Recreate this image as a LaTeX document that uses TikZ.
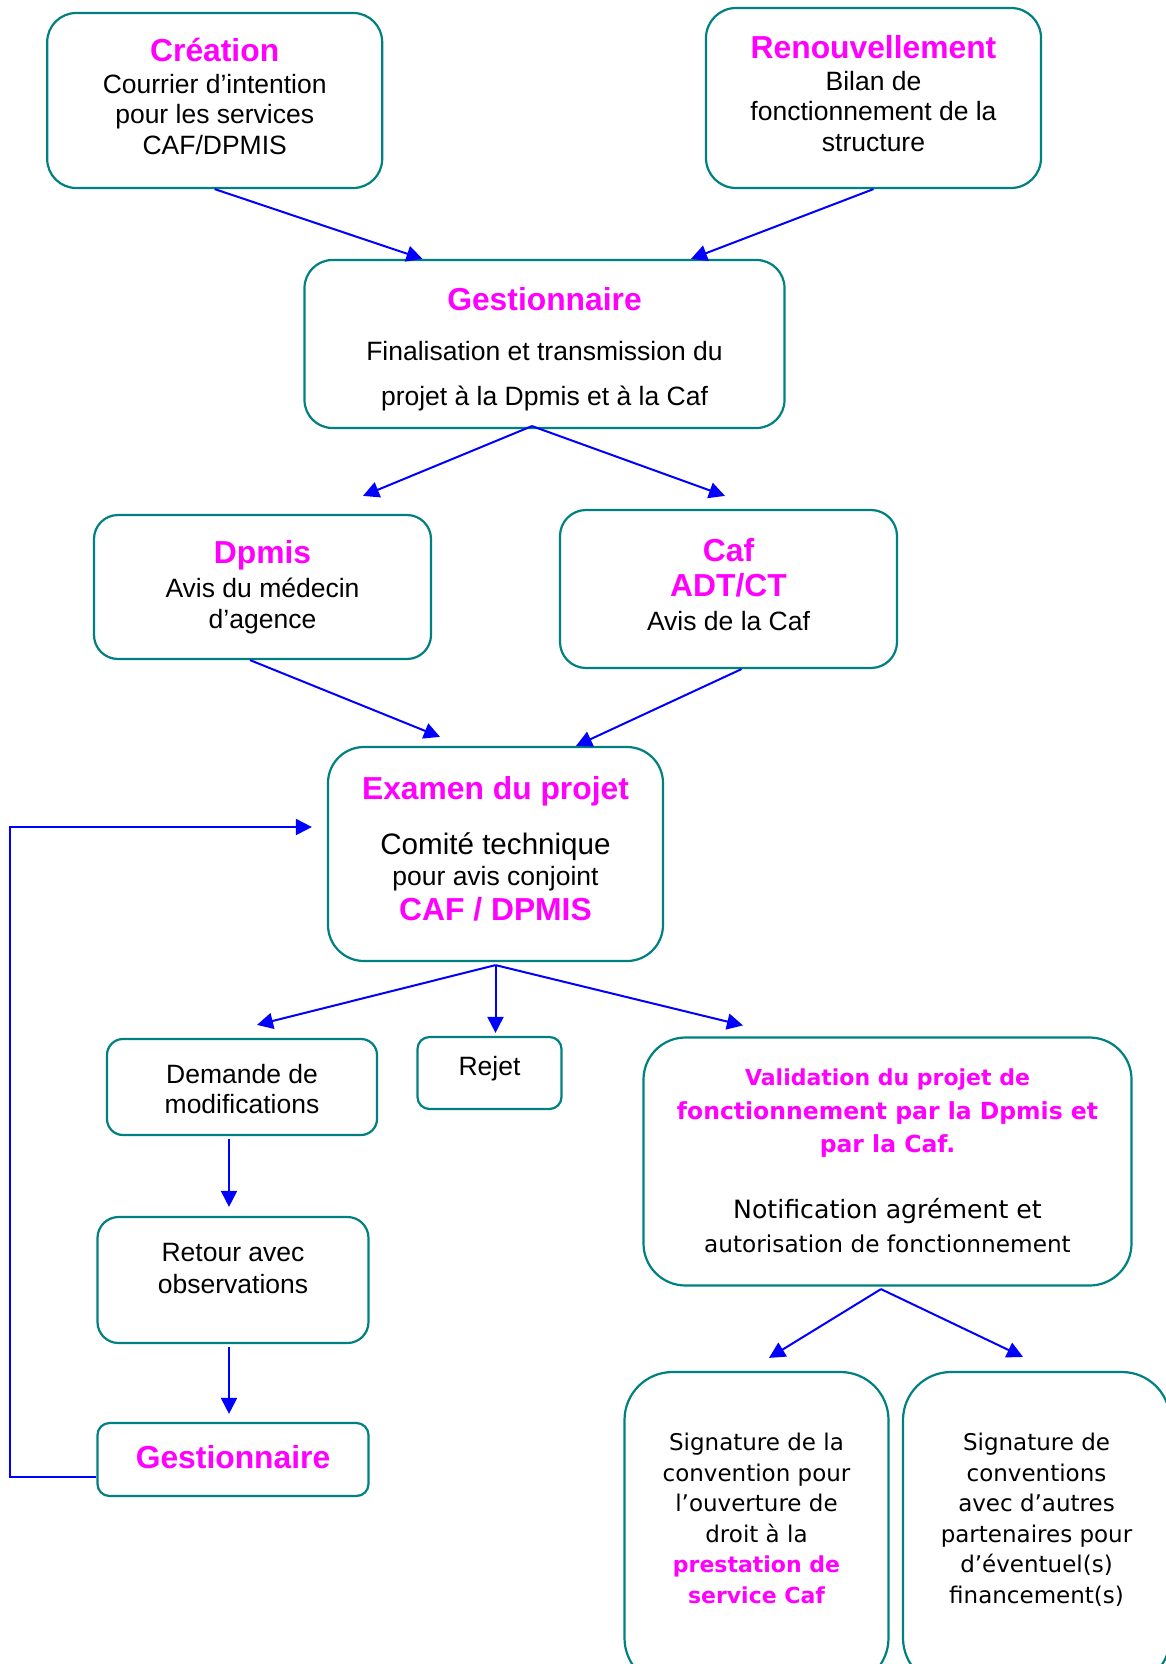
\documentclass[tikz,border=0pt]{standalone}
\usepackage{fontspec}
\setmainfont{Liberation Sans}
\newfontfamily\verdana{DejaVu Sans}
\usetikzlibrary{arrows.meta}
\definecolor{bordure}{RGB}{0,128,128}
\definecolor{rose}{RGB}{255,0,255}
\definecolor{bleu}{RGB}{0,0,255}
\newcommand{\titre}[1]{{\fontsize{15.9}{15.25}\selectfont\bfseries\color{rose}#1}}
\newcommand{\vtitre}[1]{{\fontsize{11.75}{15.25}\selectfont\bfseries\color{rose}#1}}
\tikzstyle{etape} = [rectangle, rounded corners=14pt, draw=bordure, line width=1.1pt, inner sep=0pt, text centered]
\tikzstyle{fleche} = [draw=bleu, line width=1pt, -{Triangle[length=8pt,width=8pt]}]

\begin{document}
\begin{tikzpicture}[x=0.5pt, y=-0.5pt, font=\fontsize{13.25}{15.25}\selectfont]
 \useasboundingbox (0,0) rectangle (1166,1664);
 \clip (0,0) rectangle (1166,1664);

 \node (crea) [etape, rounded corners=14.5pt, minimum width=167.5pt, minimum height=87.5pt] at (214.7,100.5) {%
 \begin{tabular}{c}
  \titre{Création}\\[0.75pt]
  Courrier d’intention\\
  pour les services\\
  CAF/DPMIS
 \end{tabular}};

 \node (renou) [etape, rounded corners=15pt, minimum width=167.5pt, minimum height=90pt] at (873.5,98) {%
 \raisebox{0.2pt}[\height][\depth]{\begin{tabular}{c}
  \titre{Renouvellement}\\[0.75pt]
  Bilan de\\
  fonctionnement de la\\
  structure
 \end{tabular}}};

 \node (gest1) [etape, minimum width=240pt, minimum height=84pt] at (544.5,344) {%
 \raisebox{-3.45pt}[\height][\depth]{\begin{tabular}{c}
  \titre{Gestionnaire}\\[9.7pt]
  Finalisation et transmission du\\[7.25pt]
  projet à la Dpmis et à la Caf
 \end{tabular}}};

 \node (dpmis) [etape, rounded corners=12pt, minimum width=168.5pt, minimum height=72pt] at (262.5,587) {%
 \raisebox{-1pt}[\height][\depth]{\begin{tabular}{c}
  \titre{Dpmis}\\[1.7pt]
  Avis du médecin\\
  d’agence
 \end{tabular}}};

 \node (caf) [etape, rounded corners=13pt, minimum width=168.5pt, minimum height=79pt] at (728.5,589) {%
 \begin{tabular}{c}
  \titre{Caf}\\[1.7pt]
  \titre{ADT/CT}\\[1.7pt]
  Avis de la Caf
 \end{tabular}};

 \node (exam) [etape, rounded corners=18pt, minimum width=167.5pt, minimum height=107pt] at (495.5,854) {%
 \raisebox{0.5pt}[\height][\depth]{\begin{tabular}{c}
  \titre{Examen du projet}\\[12.35pt]
  {\fontsize{14.8}{15.25}\selectfont Comité technique}\\[0.25pt]
  pour avis conjoint\\[1.25pt]
  \titre{CAF / DPMIS}
 \end{tabular}}};

 \node (dem) [etape, rounded corners=8pt, minimum width=135pt, minimum height=48pt] at (242,1087) {%
 \raisebox{-2.65pt}[\height][\depth]{\begin{tabular}{c}
  Demande de\\
  modifications
 \end{tabular}}};

 \node (rejet) [etape, rounded corners=6pt, minimum width=72pt, minimum height=36pt] at (489.5,1073) {%
 \raisebox{1.9pt}[\height][\depth]{\begin{tabular}{c}
  Rejet
 \end{tabular}}};

 \node (valid) [etape, rounded corners=21pt, minimum width=244pt, minimum height=124pt, font=\verdana\fontsize{13.25}{15.25}\selectfont] at (887.5,1161.5) {%
 \raisebox{-0.5pt}[\height][\depth]{\begin{tabular}{c}
  {\fontsize{11}{15.25}\selectfont\bfseries\color{rose}Validation du projet de}\\[1.75pt]
  \vtitre{fonctionnement par la Dpmis et}\\[1.25pt]
  \vtitre{par la Caf.}\\[17.75pt]
  {\fontsize{12.6}{15.25}\selectfont Notification agrément et}\\[1.75pt]
  {\fontsize{11.6}{15.25}\selectfont autorisation de fonctionnement}
 \end{tabular}}};

 \node (retour) [etape, rounded corners=10.5pt, minimum width=135.5pt, minimum height=63pt] at (233,1280) {%
 \raisebox{4.4pt}[\height][\depth]{\begin{tabular}{c}
  Retour avec\\[0.65pt]
  observations
 \end{tabular}}};

 \node (gest2) [etape, rounded corners=6pt, minimum width=135.5pt, minimum height=36.5pt] at (233,1459.5) {%
 \raisebox{-1pt}[\height][\depth]{\begin{tabular}{c}
  \titre{Gestionnaire}
 \end{tabular}}};

 \node (sig1) [etape, rounded corners=24pt, minimum width=132pt, minimum height=157pt, font=\verdana\fontsize{11.5}{15.25}\selectfont] at (756.5,1529) {%
 \raisebox{4pt}[\height][\depth]{\begin{tabular}{c}
  Signature de la\\
  convention pour\\
  l’ouverture de\\
  droit à la\\
  {\fontsize{11}{15.25}\selectfont\bfseries\color{rose}prestation de}\\
  {\fontsize{11}{15.25}\selectfont\bfseries\color{rose}service Caf}
 \end{tabular}}};

 \node (sig2) [etape, rounded corners=24pt, minimum width=133.5pt, minimum height=157pt, font=\verdana\fontsize{11.5}{15.25}\selectfont] at (1036.5,1529) {%
 \raisebox{4pt}[\height][\depth]{\begin{tabular}{c}
  Signature de\\
  conventions\\
  avec d’autres\\
  partenaires pour\\
  d’éventuel(s)\\
  financement(s)
 \end{tabular}}};

 \draw[fleche] (crea.south) -- ([xshift=-61pt]gest1.north);
 \draw[fleche] (renou.south) -- ([xshift=73.25pt]gest1.north);
 \draw[fleche] ([xshift=-6.25pt,yshift=1.5pt]gest1.south) -- ([xshift=50.25pt,yshift=9pt]dpmis.north);
 \draw[fleche] ([xshift=-6.25pt,yshift=1.5pt]gest1.south) -- ([xshift=-1.75pt,yshift=6.5pt]caf.north);
 \draw[fleche] ([xshift=-6.25pt]dpmis.south) -- ([xshift=-27.75pt,yshift=4.5pt]exam.north);
 \draw[fleche] ([xshift=6.5pt]caf.south) -- ([xshift=40.25pt]exam.north);
 \draw[fleche] ([yshift=-1.5pt]exam.south) -- ([xshift=7.5pt,yshift=6.5pt]dem.north);
 \draw[fleche] ([yshift=-1.5pt]exam.south) -- ([xshift=3pt,yshift=1.5pt]rejet.north);
 \draw[fleche] ([yshift=-1.5pt]exam.south) -- ([xshift=-72.25pt,yshift=5.5pt]valid.north);
 \draw[fleche] ([xshift=-6.5pt,yshift=-1.5pt]dem.south) -- ([xshift=-2pt,yshift=4.5pt]retour.north);
 \draw[fleche] ([xshift=-2pt,yshift=-1.65pt]retour.south) -- ([xshift=-2pt,yshift=4pt]gest2.north);
 \draw[fleche] ([yshift=-8.6pt]gest2.west) -- ++(-86,0) |- ([xshift=-7.5pt,yshift=13.5pt]exam.west);
 \draw[fleche] ([xshift=-3.25pt,yshift=-1.25pt]valid.south) -- ([xshift=6.25pt,yshift=6.5pt]sig1.north);
 \draw[fleche] ([xshift=-3.25pt,yshift=-1.25pt]valid.south) -- ([xshift=-6.75pt,yshift=7pt]sig2.north);
\end{tikzpicture}
\end{document}
